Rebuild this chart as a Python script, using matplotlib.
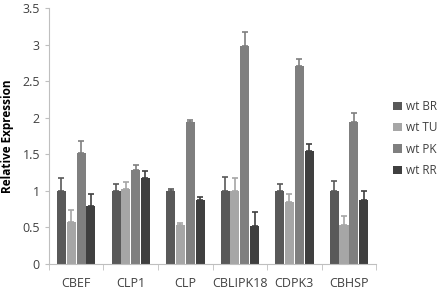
import numpy as np
import matplotlib.pyplot as plt

genes = ['CBEF', 'CLP1', 'CLP', 'CBLIPK18', 'CDPK3', 'CBHSP']
series = ['wt BR', 'wt TU', 'wt PK', 'wt RR']
colors = ['#595959', '#a6a6a6', '#7f7f7f', '#3f3f3f']

wt_br = [1.0, 1.0, 1.0, 1.0, 1.0, 1.0]
wt_tu = [0.57, 1.03, 0.53, 1.0, 0.85, 0.53]
wt_pk = [1.52, 1.28, 1.94, 2.98, 2.71, 1.94]
wt_rr = [0.79, 1.18, 0.88, 0.52, 1.55, 0.88]

err_br = [0.17, 0.09, 0.03, 0.19, 0.10, 0.14]
err_tu = [0.17, 0.09, 0.03, 0.18, 0.11, 0.13]
err_pk = [0.16, 0.08, 0.03, 0.19, 0.09, 0.13]
err_rr = [0.17, 0.09, 0.03, 0.19, 0.09, 0.12]

values = [wt_br, wt_tu, wt_pk, wt_rr]
errors = [err_br, err_tu, err_pk, err_rr]

plt.rcParams['font.family'] = ['Open Sans', 'DejaVu Sans']
fig = plt.figure(figsize=(4.41, 2.89), dpi=100)
ax = fig.add_axes([0.111, 0.0865, 0.742, 0.886])

x = np.arange(len(genes))
w = 0.18
for i in range(4):
    pos = x + (i - 1.5) * w
    ax.bar(pos, values[i], width=w * 0.92, color=colors[i], label=series[i], zorder=2)
    ax.errorbar(pos, values[i], yerr=[np.zeros(6), errors[i]], fmt='none',
                ecolor=colors[i], elinewidth=1.2, capsize=2, capthick=1.2, zorder=3)

ax.set_xlim(-0.5, len(genes) - 0.5)
ax.set_ylim(0, 3.5)
ax.set_yticks(np.arange(0, 3.51, 0.5))
ax.set_yticklabels(['0', '0.5', '1', '1.5', '2', '2.5', '3', '3.5'])
ax.set_xticks(x)
ax.set_xticklabels(genes)
ax.set_xticks(np.arange(-0.5, len(genes), 1), minor=True)
ax.tick_params(axis='x', which='major', length=0, pad=9, labelsize=9)
ax.tick_params(axis='x', which='minor', length=4, color='#bfbfbf')
ax.tick_params(axis='y', length=3, color='#bfbfbf', labelsize=9, colors='#404040')
ax.tick_params(axis='x', labelcolor='#404040')
for s in ['top', 'right']:
    ax.spines[s].set_visible(False)
for s in ['left', 'bottom']:
    ax.spines[s].set_color('#bfbfbf')
ax.set_ylabel('Relative Expression', fontsize=8.5, fontweight='bold', labelpad=6)

ax.legend(loc='center left', bbox_to_anchor=(1.02, 0.49), frameon=False,
          fontsize=8.5, handlelength=0.7, handleheight=0.7, labelspacing=0.7,
          handletextpad=0.4, labelcolor='#404040')

fig.savefig('out.png', dpi=100)
